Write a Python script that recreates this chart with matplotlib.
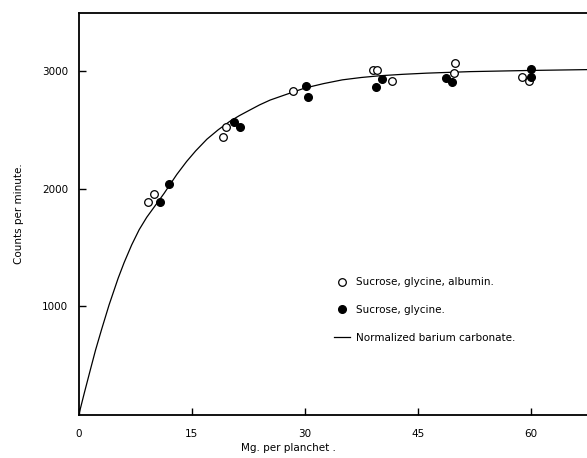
import numpy as np
import matplotlib.pyplot as plt

# open circles: sucrose, glycine, albumin
open_x = [9.2, 10.0, 19.1, 19.5, 28.5, 39.1, 39.6, 41.6, 49.9, 49.8, 58.9, 59.8]
open_y = [1888, 1951, 2441, 2526, 2834, 3009, 3009, 2917, 3068, 2985, 2945, 2917]

# filled circles: sucrose, glycine
fill_x = [10.7, 12.0, 20.6, 21.4, 30.1, 30.4, 40.2, 39.5, 48.8, 49.5, 60.1, 60.0]
fill_y = [1883, 2036, 2566, 2523, 2872, 2776, 2929, 2866, 2938, 2909, 3021, 2950]

# normalized barium carbonate curve
curve_x = [0, 0.7, 1.5, 2.2, 3, 4, 5.2, 6, 7, 8, 9, 10.7, 11.3, 12, 13, 14.3, 15.5, 17,
           18.5, 20, 21.3, 22.7, 24, 25.4, 27.5, 30, 32.5, 35, 37.5, 40, 43, 46.2, 52,
           56, 60, 67.5]
curve_y = [80, 258, 455, 625, 800, 1010, 1236, 1370, 1520, 1650, 1755, 1905, 1958, 2025,
           2120, 2230, 2320, 2420, 2500, 2570, 2620, 2668, 2712, 2753, 2800, 2855, 2893,
           2925, 2945, 2960, 2972, 2982, 2995, 3000, 3005, 3012]

xticks = [0, 15, 30, 45, 60]
yticks = [1000, 2000, 3000]

fig = plt.figure(figsize=(5.87, 4.58), dpi=100)
ax = fig.add_axes([79/587, 1 - 415/458, 1 - 79/587, (415 - 13)/458])

ax.plot(curve_x, curve_y, color='black', lw=0.9, label='Normalized barium carbonate.')
ax.plot(open_x, open_y, 'o', mfc='white', mec='black', mew=0.9, ms=5.5,
        label='Sucrose, glycine, albumin.', zorder=3)
ax.plot(fill_x, fill_y, 'o', color='black', ms=5.5, label='Sucrose, glycine.', zorder=3)

ax.set_xlim(0, 67.5)
ax.set_ylim(72, 3494)
ax.set_xticks(xticks)
ax.set_yticks(yticks)
ax.tick_params(direction='in', length=5, width=1, labelsize=7.5, pad=8)
ax.tick_params(axis='x', pad=10)
ax.spines['right'].set_visible(False)
for s in ['left', 'bottom', 'top']:
    ax.spines[s].set_linewidth(1.3)

ax.set_ylabel('Counts per minute.', fontsize=7.5, labelpad=13)
ax.set_xlabel('Mg. per planchet .', fontsize=7.5, labelpad=1)
ax.xaxis.set_label_coords(0.413, -0.07)

h, l = ax.get_legend_handles_labels()
order = [1, 2, 0]
ax.legend([h[i] for i in order], [l[i] for i in order], frameon=False, fontsize=7.5,
          loc='upper left', bbox_to_anchor=(325/587, 1 - 268/458), bbox_transform=fig.transFigure,
          handlelength=1.5, labelspacing=1.7, handletextpad=0.6)

fig.savefig('out.png', dpi=100)
